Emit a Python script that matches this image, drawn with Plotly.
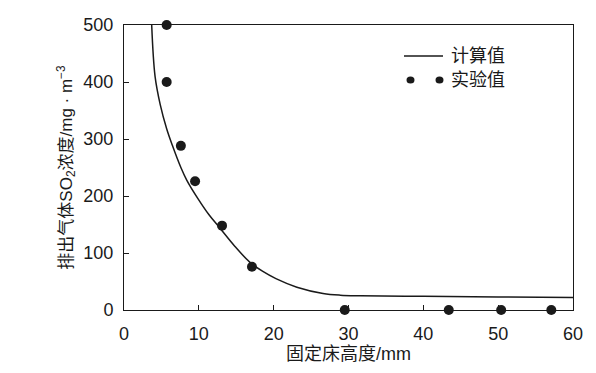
import plotly.graph_objects as go

# Calculated curve
calc_x = [3.7, 4.15, 4.85, 5.7, 6.46, 7.6, 8.38, 9.9, 11.36, 12.8, 14.8, 16.8, 18.5, 20.3,
          23.1, 26.6, 28.9, 31.6, 40, 50, 60]
calc_y = [500, 410, 360, 318, 289, 250, 228, 195, 167, 144, 112, 84, 68, 55,
          40, 29, 26, 25, 24, 23, 22]

# Experimental points
exp_x = [5.7, 5.7, 7.6, 9.5, 13.1, 17.1, 29.5, 43.4, 50.4, 57.1]
exp_y = [500, 400, 288, 226, 148, 76, 0, 0, 0, 0]

x_ticks = [0, 10, 20, 30, 40, 50, 60]
y_ticks = [0, 100, 200, 300, 400, 500]

legend_labels = ["计算值", "实验值"]

FONT = "Arial, 'Liberation Sans', 'Noto Sans CJK SC', sans-serif"

fig = go.Figure()
fig.add_trace(go.Scatter(x=calc_x, y=calc_y, mode="lines",
                         line=dict(color="#1a1a1a", width=1.5, shape="spline", smoothing=1.0),
                         showlegend=False, cliponaxis=True))
fig.add_trace(go.Scatter(x=exp_x, y=exp_y, mode="markers",
                         marker=dict(color="#1a1a1a", size=10, line=dict(width=0)),
                         showlegend=False, cliponaxis=False))

# page offset (default body margin of 8px)
OFF = 8
W, H = 580, 357
L, R, T, B = 124 - OFF, 15, 25 - OFF, 55
pw, ph = W - L - R, H - T - B


def px(xp):
    return (xp - OFF - L) / pw


def py(yp):
    return 1 - (yp - OFF - T) / ph


shapes = [
    dict(type="line", xref="paper", yref="paper", x0=px(404), x1=px(443), y0=py(56), y1=py(56),
         line=dict(color="#1a1a1a", width=1.5)),
]
for cx in (410.5, 439.5):
    shapes.append(dict(type="circle", xref="paper", yref="paper", x0=px(cx - 4), x1=px(cx + 4),
                       y0=py(80 + 3.5), y1=py(80 - 3.5), fillcolor="#1a1a1a", line=dict(width=0)))

annotations = [
    dict(xref="paper", yref="paper", x=px(449), y=py(56), text=legend_labels[0], showarrow=False,
         xanchor="left", yanchor="middle", font=dict(size=18, color="#1a1a1a", family=FONT)),
    dict(xref="paper", yref="paper", x=px(449), y=py(80), text=legend_labels[1], showarrow=False,
         xanchor="left", yanchor="middle", font=dict(size=18, color="#1a1a1a", family=FONT)),
]

fig.update_layout(
    width=W, height=H,
    margin=dict(l=L, r=R, t=T, b=B, autoexpand=False),
    paper_bgcolor="white", plot_bgcolor="white",
    font=dict(family=FONT, size=18, color="#1a1a1a"),
    shapes=shapes, annotations=annotations,
    xaxis=dict(range=[0, 60], tickvals=x_ticks, ticks="inside", ticklen=5, tickcolor="#1a1a1a",
               showline=True, mirror=True, linecolor="#1a1a1a", linewidth=1, showgrid=False, zeroline=False,
               ticklabelstandoff=7, automargin=False,
               title=dict(text="固定床高度/mm", standoff=4, font=dict(size=18))),
    yaxis=dict(range=[0, 500], tickvals=y_ticks, ticks="inside", ticklen=5, tickcolor="#1a1a1a",
               showline=True, mirror=True, linecolor="#1a1a1a", linewidth=1, showgrid=False, zeroline=False,
               ticklabelstandoff=6, automargin=False,
               title=dict(text="排出气体SO<sub>2</sub>浓度/mg · m<sup>−3</sup>", standoff=6, font=dict(size=17))),
)

fig.write_html("out.html")
